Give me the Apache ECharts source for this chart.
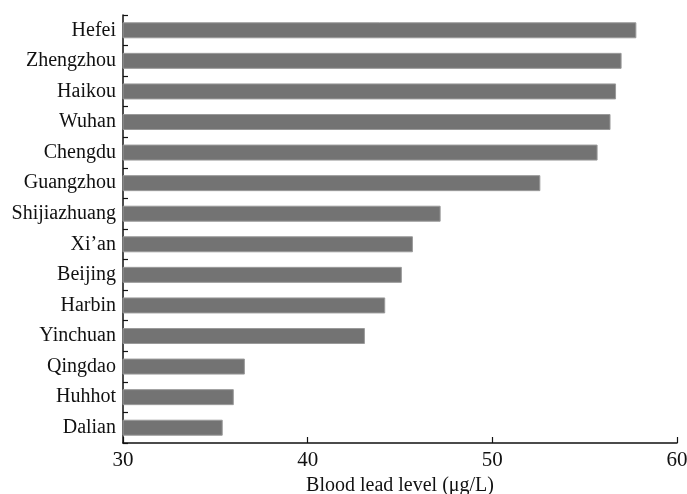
<!DOCTYPE html>
<html>
<head>
<meta charset="utf-8">
<script src="https://cdn.jsdelivr.net/npm/echarts@6/dist/echarts.min.js"></script>
<style>
  html, body { margin: 0; padding: 0; background: #fff; }
  #main { width: 687px; height: 494px; }
</style>
</head>
<body>
<div id="main"></div>
<script>
  // cities top to bottom
  var cities = ["Hefei", "Zhengzhou", "Haikou", "Wuhan", "Chengdu", "Guangzhou",
    "Shijiazhuang", "Xi\u2019an", "Beijing", "Harbin", "Yinchuan", "Qingdao", "Huhhot", "Dalian"];
  var leadLevel = [57.8, 57.0, 56.7, 56.4, 55.7, 52.6, 47.2, 45.7, 45.1, 44.2, 43.1, 36.6, 36.0, 35.4];
  var xTicks = [30, 40, 50, 60];

  var font = "'Liberation Serif', 'DejaVu Serif', serif";
  var chart = echarts.init(document.getElementById("main"));

  var option = {
    backgroundColor: "#fff",
    animation: false,
    grid: { left: 123, right: 10, top: 15, bottom: 51, containLabel: false, outerBoundsMode: "none" },
    xAxis: {
      type: "value",
      min: xTicks[0],
      max: xTicks[xTicks.length - 1],
      interval: 10,
      name: "Blood lead level (\u03bcg/L)",
      nameLocation: "middle",
      nameGap: 33,
      nameTextStyle: { fontFamily: font, fontSize: 20, color: "#111" },
      axisLine: { show: true, lineStyle: { color: "#111", width: 1.5 } },
      axisTick: { show: true, inside: true, length: 6, lineStyle: { color: "#111", width: 1.2 } },
      axisLabel: { fontFamily: font, fontSize: 21, color: "#111", margin: 7 },
      splitLine: { show: false }
    },
    yAxis: {
      type: "category",
      data: cities,
      inverse: true,
      axisLine: { show: true, lineStyle: { color: "#111", width: 1.5 } },
      axisTick: { show: true, inside: true, length: 5, lineStyle: { color: "#111", width: 1.2 } },
      axisLabel: { fontFamily: font, fontSize: 20, color: "#111", margin: 7 },
      splitLine: { show: false }
    },
    series: [
      {
        type: "bar",
        data: leadLevel,
        barWidth: 16,
        itemStyle: { color: "#737373", borderColor: "#9a9a9a", borderWidth: 1 }
      }
    ]
  };
  chart.setOption(option);
</script>
</body>
</html>
